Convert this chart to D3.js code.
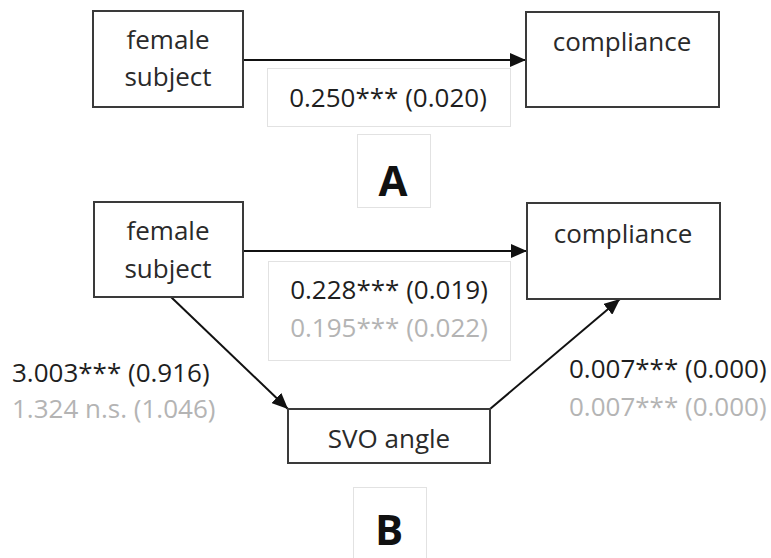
<!DOCTYPE html>
<html>
<head>
<meta charset="utf-8">
<script src="https://cdn.jsdelivr.net/npm/d3@7"></script>
<style>
  html, body { margin: 0; padding: 0; background: #fff; }
  text { font-family: "Open Sans", sans-serif; }
</style>
</head>
<body>
<div id="viz"></div>
<script>
// values
const panels        = ["A", "B"];
const nodeNames     = ["female subject", "compliance", "SVO angle"];
const pathNames     = ["total", "direct", "a", "b"];
const estimates     = ["0.250", "0.228", "3.003", "0.007"];
const signif        = ["***", "***", "***", "***"];
const stdErrors     = ["0.020", "0.019", "0.916", "0.000"];
const ctrlEstimates = [null, "0.195", "1.324", "0.007"];
const ctrlSignif    = [null, "***", "n.s.", "***"];
const ctrlErrors    = [null, "0.022", "1.046", "0.000"];

const width = 771, height = 558;
const fontSize = 26;

const svg = d3.select("#viz").html("")
  .append("svg")
  .attr("width", width)
  .attr("height", height);

// layout grid -> pixels
const x = d3.scaleLinear().domain([0, 1]).range([0, width]);
const y = d3.scaleLinear().domain([0, 1]).range([0, height]);

const boxes = [
  {panel: "A", node: 0, x0: 93,  y0: 11,  x1: 243, y1: 107},
  {panel: "A", node: 1, x0: 526, y0: 12,  x1: 719, y1: 107},
  {panel: "B", node: 0, x0: 94,  y0: 202, x1: 243, y1: 297},
  {panel: "B", node: 1, x0: 527, y0: 203, x1: 720, y1: 299},
  {panel: "B", node: 2, x0: 288, y0: 409, x1: 490, y1: 463}
];
const nodeText = [
  {box: 0, lines: [[168, 49], [168, 86]]},
  {box: 1, lines: [[622, 51]]},
  {box: 2, lines: [[168, 240], [168, 278]]},
  {box: 3, lines: [[623, 243]]},
  {box: 4, lines: [[389, 448]]}
];

const edges = [
  {path: 0, from: [243, 60],  to: [526, 60]},
  {path: 1, from: [243, 251], to: [527, 251]},
  {path: 2, from: [171, 297], to: [288, 409]},
  {path: 3, from: [490, 409], to: [620, 299]}
];

const labelPos = [
  {path: 0, anchor: "middle", x: 388, y: [107],      frame: [267, 68, 510, 126]},
  {path: 1, anchor: "middle", x: 389, y: [299, 337], frame: [268, 261, 510, 360]},
  {path: 2, anchor: "start",  x: 12,  y: [382, 418], frame: null},
  {path: 3, anchor: "start",  x: 569, y: [378, 416], frame: null}
];

const panelPos = [
  {x: 393, y: 196, size: 42, frame: [357, 134, 430, 207]},
  {x: 389, y: 545, size: 42, frame: [353, 487, 426, 575]}
];

svg.append("defs").append("marker")
  .attr("id", "arrow")
  .attr("viewBox", "0 0 16 14")
  .attr("refX", 16).attr("refY", 7)
  .attr("markerWidth", 16).attr("markerHeight", 14)
  .attr("markerUnits", "userSpaceOnUse")
  .attr("orient", "auto")
  .append("path")
  .attr("d", "M0,0 L16,7 L0,14 Z")
  .attr("fill", "#111");

// light label frames
svg.append("g").selectAll("rect")
  .data(labelPos.filter(d => d.frame).map(d => d.frame).concat(panelPos.map(d => d.frame)))
  .join("rect")
  .attr("x", d => x(d[0] / width) + 0.5)
  .attr("y", d => y(d[1] / height) + 0.5)
  .attr("width", d => x((d[2] - d[0]) / width))
  .attr("height", d => y((d[3] - d[1]) / height))
  .attr("fill", "#fff")
  .attr("stroke", "#e2e2e2")
  .attr("stroke-width", 1);

// edges
svg.append("g").selectAll("line")
  .data(edges)
  .join("line")
  .attr("x1", d => x(d.from[0] / width))
  .attr("y1", d => y(d.from[1] / height))
  .attr("x2", d => x(d.to[0] / width))
  .attr("y2", d => y(d.to[1] / height))
  .attr("stroke", "#111")
  .attr("stroke-width", 2)
  .attr("marker-end", "url(#arrow)");

// variable boxes
svg.append("g").selectAll("rect")
  .data(boxes)
  .join("rect")
  .attr("x", d => x(d.x0 / width))
  .attr("y", d => y(d.y0 / height))
  .attr("width", d => x((d.x1 - d.x0) / width))
  .attr("height", d => y((d.y1 - d.y0) / height))
  .attr("fill", "#fff")
  .attr("stroke", "#3a3a3a")
  .attr("stroke-width", 2);

const nt = svg.append("g");
nodeText.forEach(t => {
  const words = nodeNames[boxes[t.box].node].split(" ");
  const lines = t.lines.length === 1 ? [words.join(" ")] : words;
  lines.forEach((w, i) => {
    nt.append("text")
      .attr("x", x(t.lines[i][0] / width))
      .attr("y", y(t.lines[i][1] / height))
      .attr("text-anchor", "middle")
      .attr("font-size", fontSize)
      .attr("fill", "#2a2a2a")
      .text(w);
  });
});

// coefficients
const lt = svg.append("g");
labelPos.forEach(l => {
  const i = l.path;
  lt.append("text")
    .attr("x", x(l.x / width)).attr("y", y(l.y[0] / height))
    .attr("text-anchor", l.anchor)
    .attr("font-size", fontSize)
    .attr("fill", "#1e1e1e")
    .text(`${estimates[i]}${signif[i]} (${stdErrors[i]})`);
  if (ctrlEstimates[i] !== null) {
    const sep = ctrlSignif[i] === "***" ? "" : " ";
    lt.append("text")
      .attr("x", x(l.x / width)).attr("y", y(l.y[1] / height))
      .attr("text-anchor", l.anchor)
      .attr("font-size", fontSize)
      .attr("fill", "#b4b4b4")
      .text(`${ctrlEstimates[i]}${sep}${ctrlSignif[i]} (${ctrlErrors[i]})`);
  }
});

// panel letters
svg.append("g").selectAll("text")
  .data(panels)
  .join("text")
  .attr("x", (d, i) => x(panelPos[i].x / width))
  .attr("y", (d, i) => y(panelPos[i].y / height))
  .attr("text-anchor", "middle")
  .attr("font-size", (d, i) => panelPos[i].size)
  .attr("font-weight", "bold")
  .attr("fill", "#111")
  .text(d => d);
</script>
</body>
</html>
